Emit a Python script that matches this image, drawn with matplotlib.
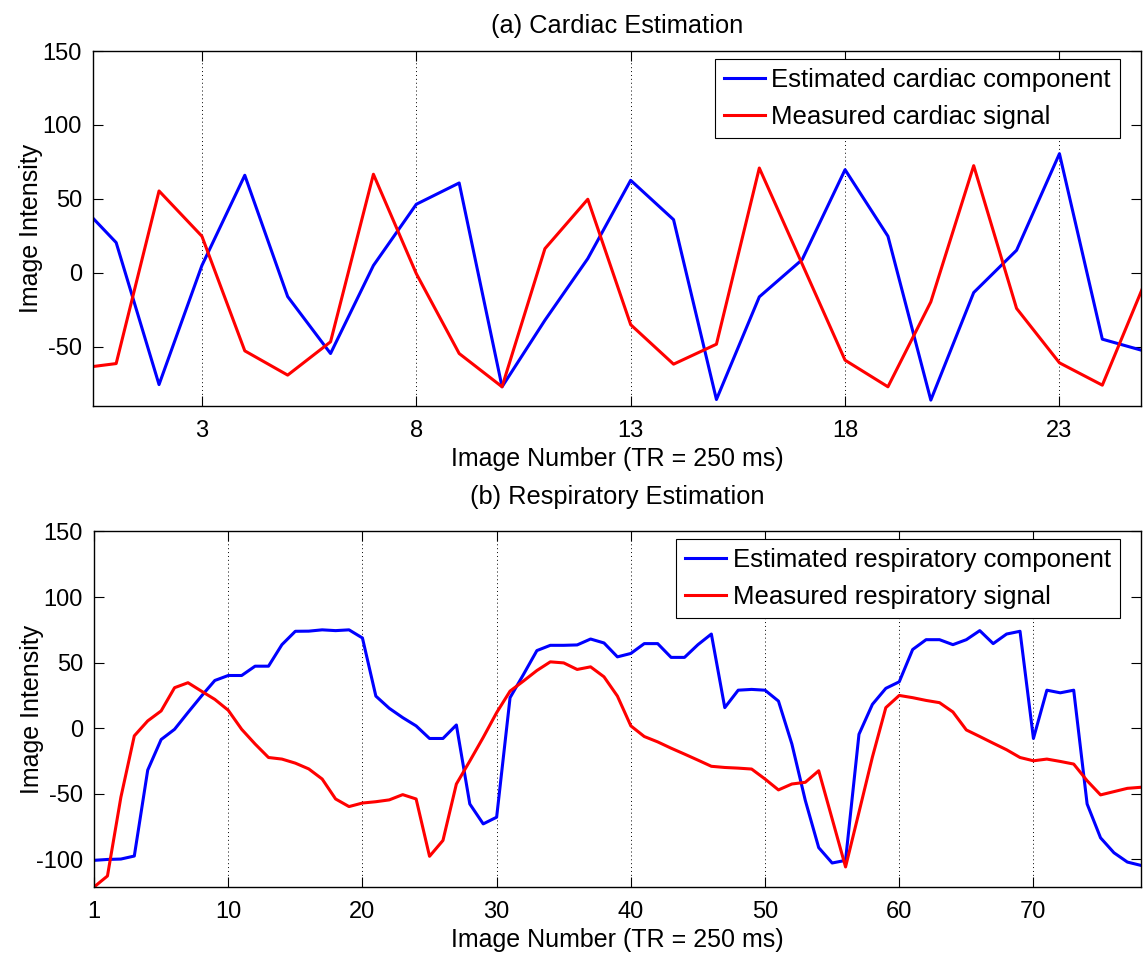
import numpy as np
import matplotlib
matplotlib.use("Agg")
import matplotlib.pyplot as plt

plt.rcParams['font.family'] = ['Liberation Sans', 'DejaVu Sans']
plt.rcParams['axes.unicode_minus'] = False

# (a) cardiac: image index 0..25
cardiac_x = np.arange(0, 26)
cardiac_est = [51, 20.5, -75.5, 5, 66, -16, -54.5, 5, 46.4, 60.8, -77, -32, 9.7,
               62.6, 36, -85.6, -16.2, 9, 69.8, 24.8, -86, -13.3, 15.3, 80.6, -44.8, -53]
cardiac_meas = [-65, -61.3, 55.4, 24.8, -52.7, -69.1, -46.6, 66.7, -0.5, -54.5, -77, 16.4, 49.8,
                -35, -61.7, -48.2, 70.9, 6, -59, -77, -19.6, 72.5, -24, -60.8, -75.9, -6]
cardiac_ticks = [3, 8, 13, 18, 23]

# (b) respiratory: image index 0..78
resp_x = np.arange(0, 79)
resp_est = [-100.7, -100, -99.7, -97.4, -31.9, -8.6, -0.8, 12, 24.5, 36.4,
            40.2, 40.2, 47.3, 47.3, 63.7, 73.9, 74, 75, 74.4, 75,
            68.8, 24.5, 15.2, 8.1, 1.8, -7.8, -7.8, 2.5, -57.7, -72.9,
            -67.8, 23.3, 41, 59.2, 63.2, 63.2, 63.5, 68, 65, 54.4,
            57, 64.5, 64.5, 54, 54, 63.7, 71.8, 15.7, 29, 29.6,
            29, 20.7, -12, -55, -91, -102.7, -100.7, -4.6, 18.2, 30.4,
            35.4, 60, 67.5, 67.5, 63.7, 67.5, 74.4, 64.5, 71.8, 73.9,
            -7.8, 29, 27, 29, -57.7, -83.5, -94.9, -102, -104.5]
resp_meas = [-121, -112.6, -52.6, -5.8, 5.6, 13.2, 30.9, 34.7, 28.3, 22,
             13.7, -0.8, -12, -22.3, -23.5, -26.6, -31, -38.7, -53.9, -59.7,
             -57, -56, -54.6, -50.6, -53.9, -97.6, -85.5, -42.5, -25, -7,
             11.9, 28.3, 36, 44, 50.6, 49.8, 44.8, 46.8, 39.2, 24.5,
             1.8, -6.3, -10.4, -15.2, -19.7, -24.3, -29, -29.9, -30.4, -31.1,
             -38.7, -47, -42.5, -41.2, -32.4, -69, -105.7, -64, -22, 15.7,
             25, 23.3, 21.2, 19.5, 12.4, -1.3, -6.3, -11.4, -16.4, -22.3,
             -24.8, -23.5, -25.3, -27.3, -40, -50.8, -48.3, -45.8, -45]
resp_ticks = [0, 10, 20, 30, 40, 50, 60, 70]
resp_ticklabels = ['1', '10', '20', '30', '40', '50', '60', '70']

fs = 17
lab_fs = 18

fig = plt.figure(figsize=(11.44, 9.61), dpi=100)
ax1 = fig.add_axes([0.0813, 0.5775, 0.916, 0.3694])
ax2 = fig.add_axes([0.0822, 0.0770, 0.9150, 0.3700])


def style(ax, ticks, labels=None):
    ax.set_xticks(ticks)
    if labels is not None:
        ax.set_xticklabels(labels)
    ax.set_yticks([-100, -50, 0, 50, 100, 150])
    ax.tick_params(direction='in', length=7, width=0.8, top=True, right=True,
                   labelsize=fs)
    ax.tick_params(axis='x', pad=10)
    ax.tick_params(axis='y', pad=8)
    # dotted vertical grid at the x ticks only
    ax.xaxis.grid(True, linestyle=(0, (1, 3)), color='black', linewidth=0.7)
    for s in ax.spines.values():
        s.set_linewidth(1.0)
    ax.set_ylabel("Image Intensity", fontsize=lab_fs)
    ax.yaxis.set_label_coords(-0.048, 0.5)
    ax.set_xlabel("Image Number (TR = 250 ms)", fontsize=lab_fs, labelpad=4)


def add_legend(ax, right_gap):
    leg = ax.legend(loc='upper right', bbox_to_anchor=(1 - right_gap, 1 - 8 / 355),
                    borderaxespad=0, fontsize=18.5, fancybox=False, framealpha=1,
                    edgecolor='black', handlelength=1.6, handletextpad=0.25,
                    borderpad=0.35, labelspacing=0.5)
    leg.get_frame().set_linewidth(0.8)
    return leg


# (a) Cardiac
ax1.plot(cardiac_x, cardiac_est, color='blue', lw=2.2, label='Estimated cardiac component')
ax1.plot(cardiac_x, cardiac_meas, color='red', lw=2.2, label='Measured cardiac signal')
style(ax1, cardiac_ticks)
ax1.set_xlim(0.46, 24.9)
ax1.set_ylim(-90, 150)
ax1.set_title("(a) Cardiac Estimation", fontsize=18.3, pad=13)
add_legend(ax1, 21 / 1048)

# (b) Respiratory
ax2.plot(resp_x, resp_est, color='blue', lw=2.2, label='Estimated respiratory component')
ax2.plot(resp_x, resp_meas, color='red', lw=2.2, label='Measured respiratory signal')
style(ax2, resp_ticks, resp_ticklabels)
ax2.set_xlim(0, 78)
ax2.set_ylim(-121, 150)
ax2.set_title("(b) Respiratory Estimation", fontsize=18.3, pad=20)
add_legend(ax2, 21 / 1046)

fig.savefig("out.png", dpi=100)
